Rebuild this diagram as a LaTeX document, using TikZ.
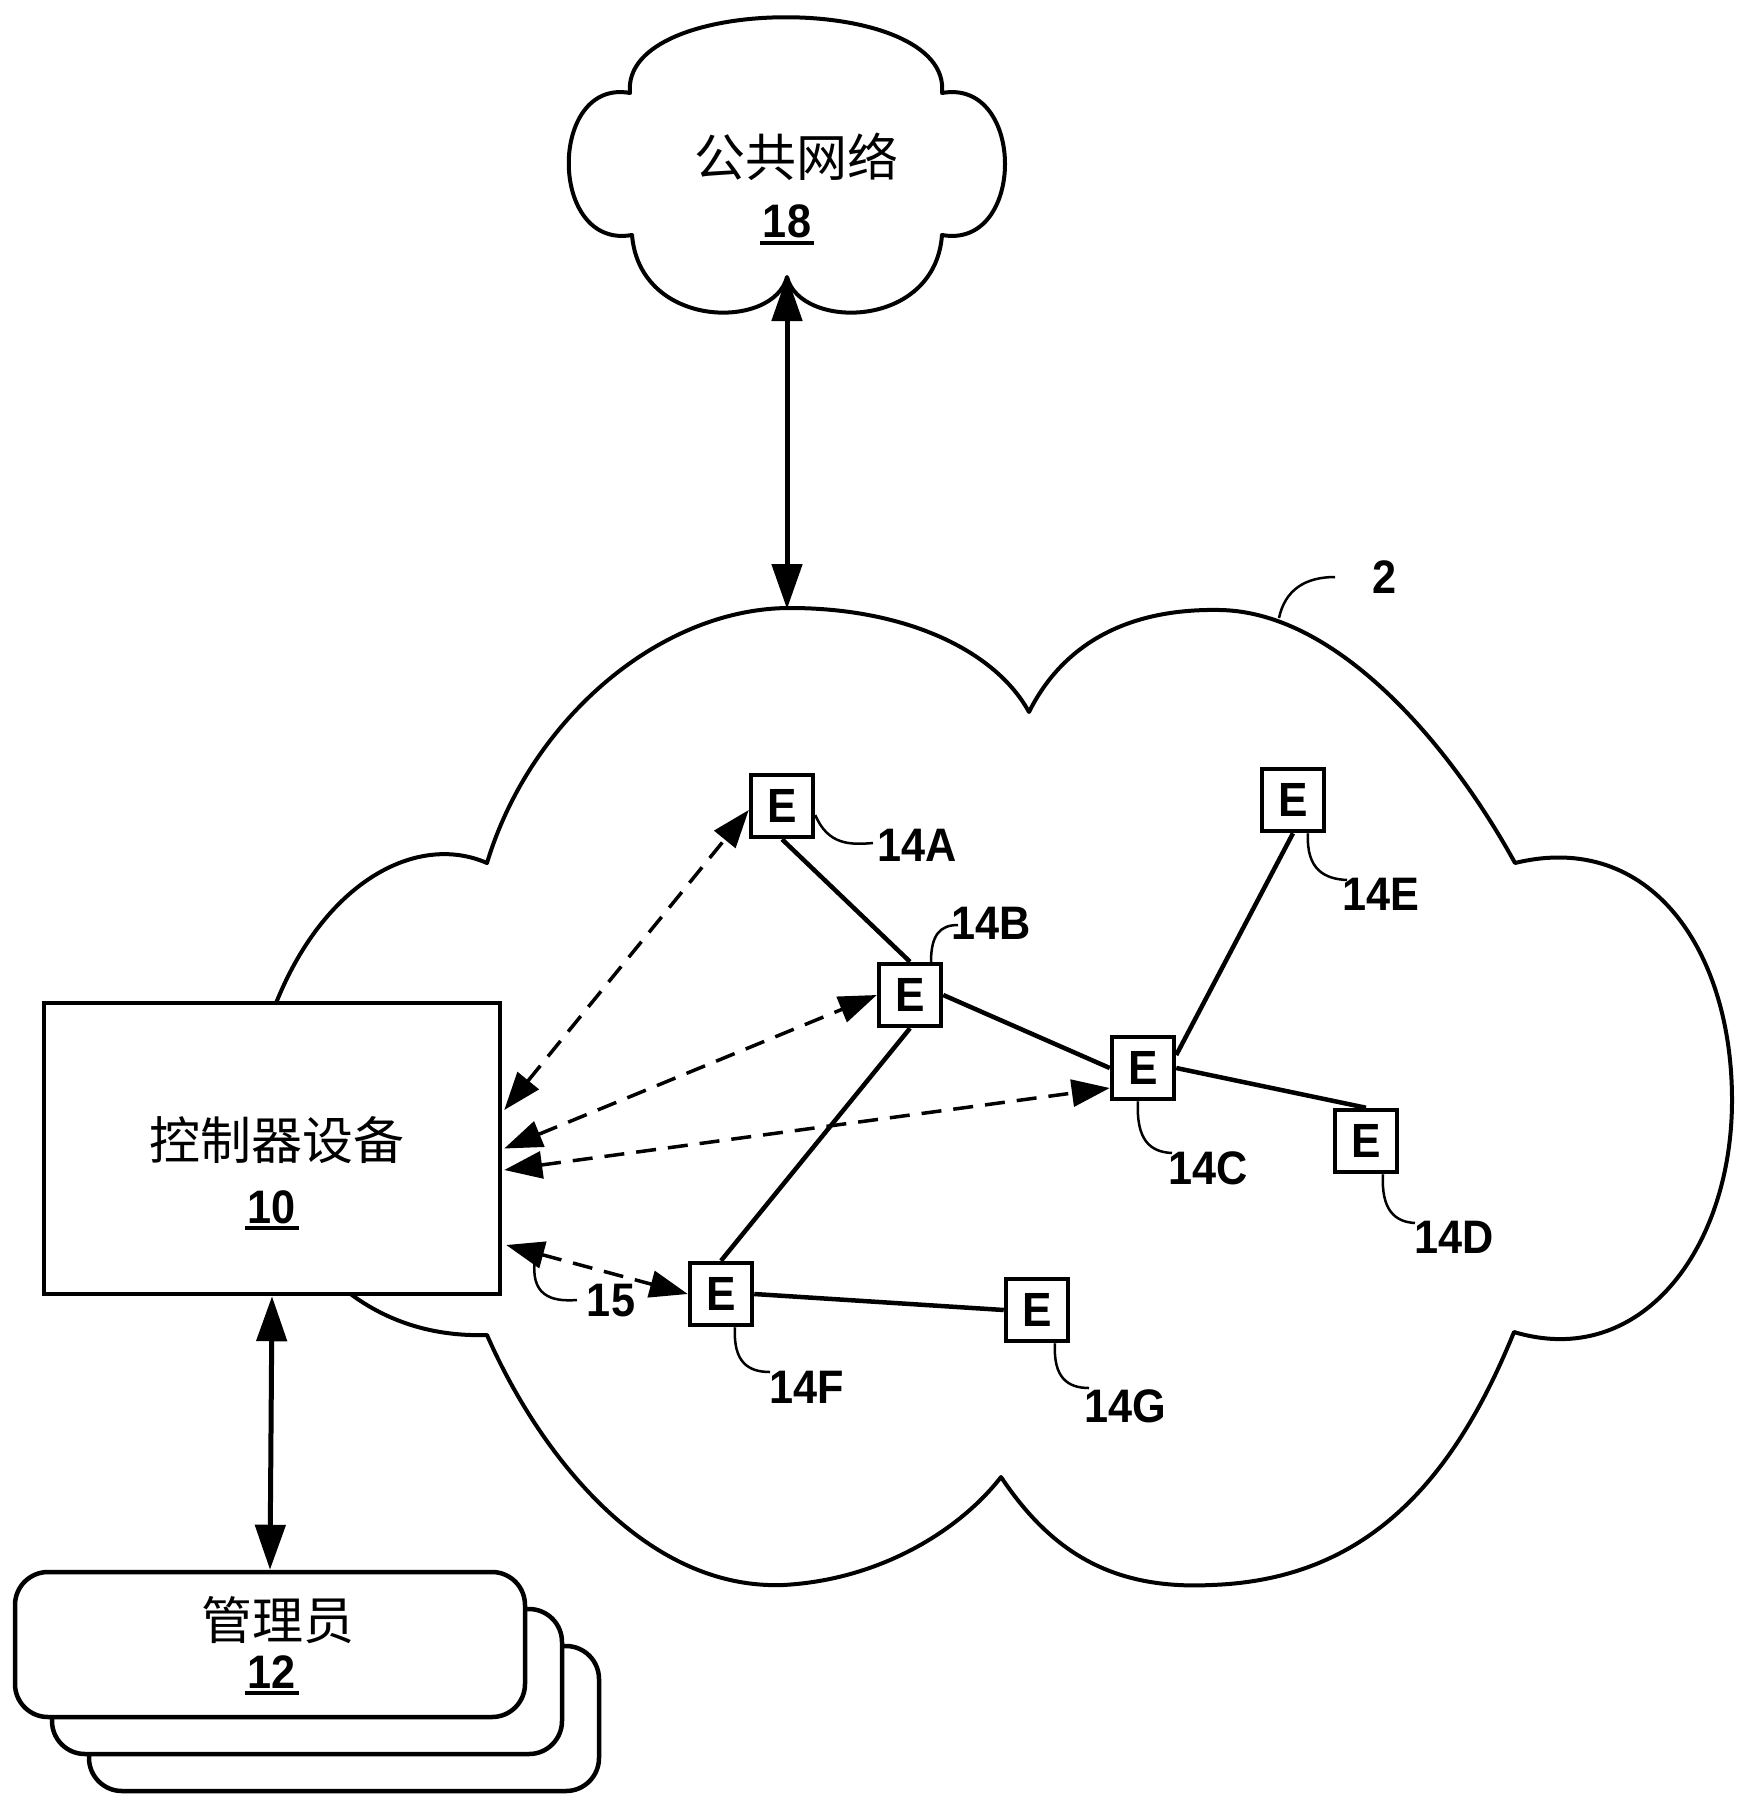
\documentclass[tikz,border=0pt]{standalone}
\usepackage{fontspec}
\newfontfamily\cjk{Noto Sans CJK SC}
\newfontfamily\lab[FakeStretch=0.92]{Liberation Sans}
\usetikzlibrary{arrows.meta,calc}
\tikzset{
  cl/.style={line width=4pt, fill=white, line join=round},
  ebox/.style={draw, line width=4.5pt, minimum size=62pt, inner sep=0pt, fill=white,
    font=\lab\bfseries\fontsize{48}{50}\selectfont},
  lbl/.style={inner sep=0pt, font=\lab\bfseries\fontsize{47}{50}\selectfont},
  cjkt/.style={inner sep=0pt, font=\cjk\fontsize{51}{56}\selectfont},
  link/.style={line width=4.5pt},
  dasharrow/.style={line width=3.5pt, dash pattern=on 20pt off 12pt,
    {Triangle[length=38pt,width=27pt]}-{Triangle[length=38pt,width=27pt]}},
  dbl/.style={line width=5pt,
    {Triangle[length=45pt,width=30pt]}-{Triangle[length=45pt,width=30pt]}},
  lead/.style={line width=2.5pt},
  ulin/.style={line width=4pt},
  bigbox/.style={draw, line width=4.5pt, fill=white, inner sep=0pt},
  admbox/.style={draw, line width=4.5pt, fill=white, inner sep=0pt,
    minimum width=510pt, minimum height=145pt, rounded corners=33pt},
}
\begin{document}
\begin{tikzpicture}[x=1pt,y=-1pt]
\useasboundingbox (0,0) rectangle (1747,1807);
\fill[white] (0,0) rectangle (1747,1807);

% small cloud (public network)
\draw[cl] (632,235) .. controls (548,250) and (548,78) .. (630,93)
  .. controls (620,-8) and (952,-8) .. (942,93)
  .. controls (1026,78) and (1026,250) .. (942,235)
  .. controls (935,330) and (800,330) .. (787,277)
  .. controls (774,330) and (640,330) .. (632,235) -- cycle;
\node[cjkt] (t18) at (796,157) {公共网络};
\node[lbl] (n18) at (787,221) {18};
\draw[ulin] ([xshift=-3pt,yshift=-5pt]n18.south west) -- ([xshift=3pt,yshift=-5pt]n18.south east);

% big cloud (network 2)
\draw[cl] (487,863) .. controls (400,825) and (280,910) .. (250,1100)
  .. controls (255,1200) and (330,1340) .. (487,1335)
  .. controls (535,1445) and (640,1590) .. (783,1585)
  .. controls (880,1580) and (960,1530) .. (1001,1477)
  .. controls (1050,1550) and (1110,1590) .. (1211,1585)
  .. controls (1360,1580) and (1450,1490) .. (1514,1332)
  .. controls (1640,1370) and (1732,1250) .. (1732,1100)
  .. controls (1732,950) and (1650,830) .. (1515,863)
  .. controls (1453,750) and (1340,612) .. (1220,610)
  .. controls (1120,608) and (1060,650) .. (1029,712)
  .. controls (995,650) and (905,608) .. (790,608)
  .. controls (660,608) and (530,720) .. (487,863) -- cycle;
\coordinate (s18) at (787,276);
\coordinate (c2top) at (787,609);
\draw[dbl] (s18) -- (c2top);

\coordinate (l2a) at (1279,618);
\node[lbl] (n2) at (1385,577) {2};
\draw[lead] (l2a) .. controls (1285,590) and (1305,577) .. (1335,577);

% element nodes
\node[ebox] (A) at (782,806) {E};
\node[ebox] (B) at (910,995) {E};
\node[ebox] (C) at (1143,1068) {E};
\node[ebox] (D) at (1366,1141) {E};
\node[ebox] (E) at (1293,800) {E};
\node[ebox] (F) at (721,1294) {E};
\node[ebox] (G) at (1037,1310) {E};

\draw[link] (A.south) -- (B.north);
\draw[link] (B.east) -- (C.west);
\draw[link] ([yshift=13pt]C.east) -- (E.south);
\draw[link] (C.east) -- (D.north);
\draw[link] (B.south) -- (F.north);
\draw[link] (F.east) -- (G.west);

% controller device
\node[bigbox, minimum width=456pt, minimum height=291pt] (ctrl) at (272,1148.5) {};
\node[cjkt] (tctrl) at (277,1140) {控制器设备};
\node[lbl] (n10) at (272,1207) {10};
\draw[ulin] ([xshift=-3pt,yshift=-4pt]n10.south west) -- ([xshift=3pt,yshift=-4pt]n10.south east);

% dashed control arrows
\draw[dasharrow] ([xshift=2pt,yshift=38.5pt]ctrl.east) -- ([yshift=-4pt]A.west);
\draw[dasharrow] ([xshift=2pt]ctrl.east) -- (B.west);
\draw[dasharrow] ([xshift=2pt,yshift=-21.5pt]ctrl.east) -- ([yshift=-20pt]C.west);
\draw[dasharrow] ([xshift=4pt,yshift=-96.5pt]ctrl.east) -- (F.west);

% labels with leaders
\node[lbl] (l14A) at (917,845) {14A};
\draw[lead] ([yshift=-9pt]A.east) .. controls (828,845) and (850,845) .. (873,843);
\node[lbl] (l14B) at (991,923) {14B};
\draw[lead] ([xshift=21pt]B.north) .. controls (931,935) and (940,925) .. (958,925);
\node[lbl] (l14C) at (1208,1168) {14C};
\draw[lead] ([xshift=-5pt]C.south) .. controls (1136,1140) and (1150,1152) .. (1172,1153);
\node[lbl] (l14D) at (1454,1237) {14D};
\draw[lead] ([xshift=17pt]D.south) .. controls (1381,1210) and (1395,1222) .. (1415,1223);
\node[lbl] (l14E) at (1381,894) {14E};
\draw[lead] ([xshift=15pt]E.south) .. controls (1306,870) and (1325,879) .. (1347,880);
\node[lbl] (l14F) at (807,1387) {14F};
\draw[lead] ([xshift=14pt]F.south) .. controls (733,1362) and (748,1372) .. (770,1372);
\node[lbl] (l14G) at (1125,1406) {14G};
\draw[lead] ([xshift=18pt]G.south) .. controls (1053,1378) and (1068,1388) .. (1089,1388);
\node[lbl] (l15) at (611,1301) {15};
\coordinate (l15a) at (535,1258);
\draw[lead] (l15a) .. controls (530,1295) and (550,1302) .. (577,1300);

% administrators
\node[admbox] (adm3) at (344,1718.5) {};
\node[admbox] (adm2) at (307,1681.5) {};
\node[admbox] (adm) at (270,1644.5) {};
\node[cjkt] (tadm) at (278,1620) {管理员};
\node[lbl] (n12) at (272,1672) {12};
\draw[ulin] ([xshift=-3pt,yshift=-4pt]n12.south west) -- ([xshift=3pt,yshift=-4pt]n12.south east);

\draw[dbl] (ctrl.south) -- (adm.north);
\end{tikzpicture}
\end{document}
